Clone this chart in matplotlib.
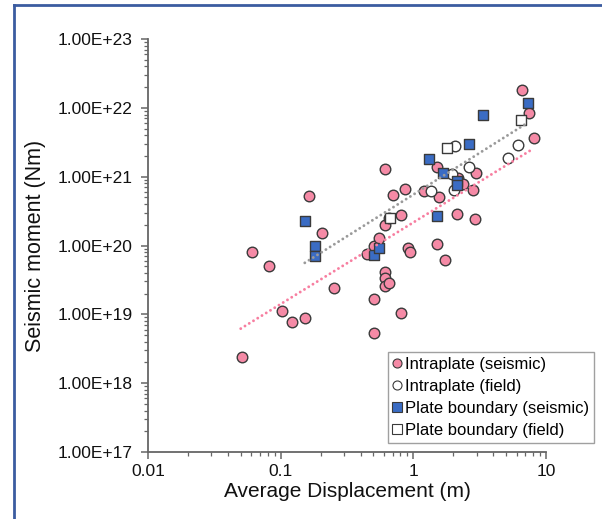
import matplotlib
matplotlib.use("Agg")
import matplotlib.pyplot as plt
from matplotlib.lines import Line2D
from matplotlib.ticker import FuncFormatter, LogLocator

plt.rcParams["font.family"] = ["Liberation Sans", "DejaVu Sans"]

# Intraplate (seismic)
intra_seis_x = [0.051, 0.061, 0.082, 0.102, 0.122, 0.152, 0.163, 0.204, 0.253,
                0.449, 0.506, 0.506, 0.506, 0.552, 0.611, 0.611, 0.611, 0.611,
                0.611, 0.65, 0.707, 0.66, 0.807, 0.807, 0.869, 0.91, 0.94,
                1.21, 1.50, 1.55, 1.50, 1.74, 2.13, 2.17, 2.35, 2.83, 2.93,
                2.99, 6.6, 7.45, 8.07]
intra_seis_y = [2.4e18, 8.0e19, 5.0e19, 1.1e19, 7.8e18, 8.9e18, 5.3e20, 1.5e20, 2.4e19,
                7.6e19, 1.0e20, 1.65e19, 5.4e18, 1.3e20, 1.29e21, 1.98e20, 4.1e19, 3.4e19,
                2.6e19, 2.9e19, 5.4e20, 2.5e20, 2.8e20, 1.06e19, 6.7e20, 9.3e19, 8.0e19,
                6.2e20, 1.4e21, 5.0e20, 1.05e20, 6.2e19, 2.9e20, 9.5e20, 7.8e20, 6.3e20, 2.4e20,
                1.13e21, 1.79e22, 8.4e21, 3.6e21]

# Intraplate (field)
intra_field_x = [1.36, 1.96, 2.03, 2.05, 2.63, 5.13, 6.1]
intra_field_y = [6.1e20, 1.1e21, 6.4e20, 2.8e21, 1.4e21, 1.88e21, 2.87e21]

# Plate boundary (seismic)
pb_seis_x = [0.152, 0.182, 0.182, 0.506, 0.552, 1.31, 1.51, 1.67, 2.13, 2.13, 2.63, 3.35, 7.36]
pb_seis_y = [2.3e20, 1.0e20, 7.0e19, 7.2e19, 9.2e19, 1.8e21, 2.7e20, 1.12e21, 8.7e20, 7.6e20,
             3.03e21, 7.8e21, 1.19e22]

# Plate boundary (field)
pb_field_x = [0.667, 1.80, 6.49]
pb_field_y = [2.5e20, 2.6e21, 6.6e21]

# dotted trend lines (end points)
intra_trend_x = [0.05, 8.07]
intra_trend_y = [6.2e18, 2.57e21]
pb_trend_x = [0.152, 7.1]
pb_trend_y = [5.6e19, 5.9e21]

PINK = "#f58aa6"
BLUE = "#3a6cc4"
EDGE = "#3a3a3a"
AXC = "#666666"

fig = plt.figure(figsize=(6.02, 5.19), dpi=100)
ax = fig.add_axes([148 / 602, 1 - 452 / 519, (546 - 148) / 602, (452 - 39) / 519])

ms = 58
ax.scatter(intra_seis_x, intra_seis_y, s=ms, marker="o", facecolor=PINK,
           edgecolor=EDGE, linewidth=1.0, zorder=3)
ax.scatter(intra_field_x, intra_field_y, s=ms, marker="o", facecolor="white",
           edgecolor=EDGE, linewidth=1.0, zorder=3)
ax.scatter(pb_field_x, pb_field_y, s=ms, marker="s", facecolor="white",
           edgecolor=EDGE, linewidth=1.0, zorder=3)
ax.scatter(pb_seis_x, pb_seis_y, s=ms, marker="s", facecolor=BLUE,
           edgecolor=EDGE, linewidth=1.0, zorder=3)

dots = (0, (0.01, 1.7))
ax.plot(intra_trend_x, intra_trend_y, color="#f77ea0", lw=2.1,
        linestyle=dots, dash_capstyle="round", zorder=4)
ax.plot(pb_trend_x, pb_trend_y, color="#9a9a9a", lw=2.1,
        linestyle=dots, dash_capstyle="round", zorder=4)

ax.set_xscale("log")
ax.set_yscale("log")
ax.set_xlim(0.01, 10)
ax.set_ylim(1e17, 1e23)

ax.xaxis.set_major_locator(LogLocator(base=10, numticks=10))
ax.yaxis.set_major_locator(LogLocator(base=10, numticks=10))
ax.xaxis.set_minor_locator(LogLocator(base=10, subs=range(2, 10), numticks=10))
ax.yaxis.set_minor_locator(LogLocator(base=10, subs=range(2, 10), numticks=10))
ax.xaxis.set_major_formatter(FuncFormatter(lambda v, p: f"{v:g}"))
ax.yaxis.set_major_formatter(FuncFormatter(lambda v, p: f"{v:.2E}"))

for side in ("top", "right"):
    ax.spines[side].set_visible(False)
for side in ("left", "bottom"):
    ax.spines[side].set_color(AXC)
    ax.spines[side].set_linewidth(1.3)

ax.tick_params(which="major", direction="out", length=5, width=1.1, color=AXC,
               labelsize=12.5, labelcolor="#111111", pad=4)
ax.tick_params(which="minor", direction="out", length=3, width=0.9, color=AXC)
ax.tick_params(axis="y", which="major", pad=6)

ax.set_xlabel("Average Displacement (m)", fontsize=15, color="#111111", labelpad=2)
ax.set_ylabel("Seismic moment (Nm)", fontsize=15.5, color="#111111", labelpad=8)

handles = [
    Line2D([], [], ls="none", marker="o", ms=6.5, mfc=PINK, mec=EDGE, mew=0.8),
    Line2D([], [], ls="none", marker="o", ms=6.5, mfc="white", mec=EDGE, mew=0.8),
    Line2D([], [], ls="none", marker="s", ms=6.5, mfc=BLUE, mec=EDGE, mew=0.8),
    Line2D([], [], ls="none", marker="s", ms=6.5, mfc="white", mec=EDGE, mew=0.8),
]
labels = ["Intraplate (seismic)", "Intraplate (field)",
          "Plate boundary (seismic)", "Plate boundary (field)"]
leg = fig.legend(handles, labels, loc="upper left",
                 bbox_to_anchor=(388 / 602, 1 - 352 / 519), borderaxespad=0,
                 fontsize=12, frameon=True, fancybox=False, handlelength=0.5,
                 handletextpad=0.2, labelspacing=0.42, borderpad=0.3)
leg.get_frame().set_edgecolor("#888888")
leg.get_frame().set_linewidth(1.0)

# blue border of the figure panel
border = "#3b5ca0"
fig.add_artist(Line2D([14 / 602, 14 / 602], [0, 1 - 5 / 519], color=border, lw=2,
                      transform=fig.transFigure))
fig.add_artist(Line2D([14 / 602, 1], [1 - 5 / 519, 1 - 5 / 519], color=border, lw=2,
                      transform=fig.transFigure))

fig.savefig("out.png", dpi=100)
